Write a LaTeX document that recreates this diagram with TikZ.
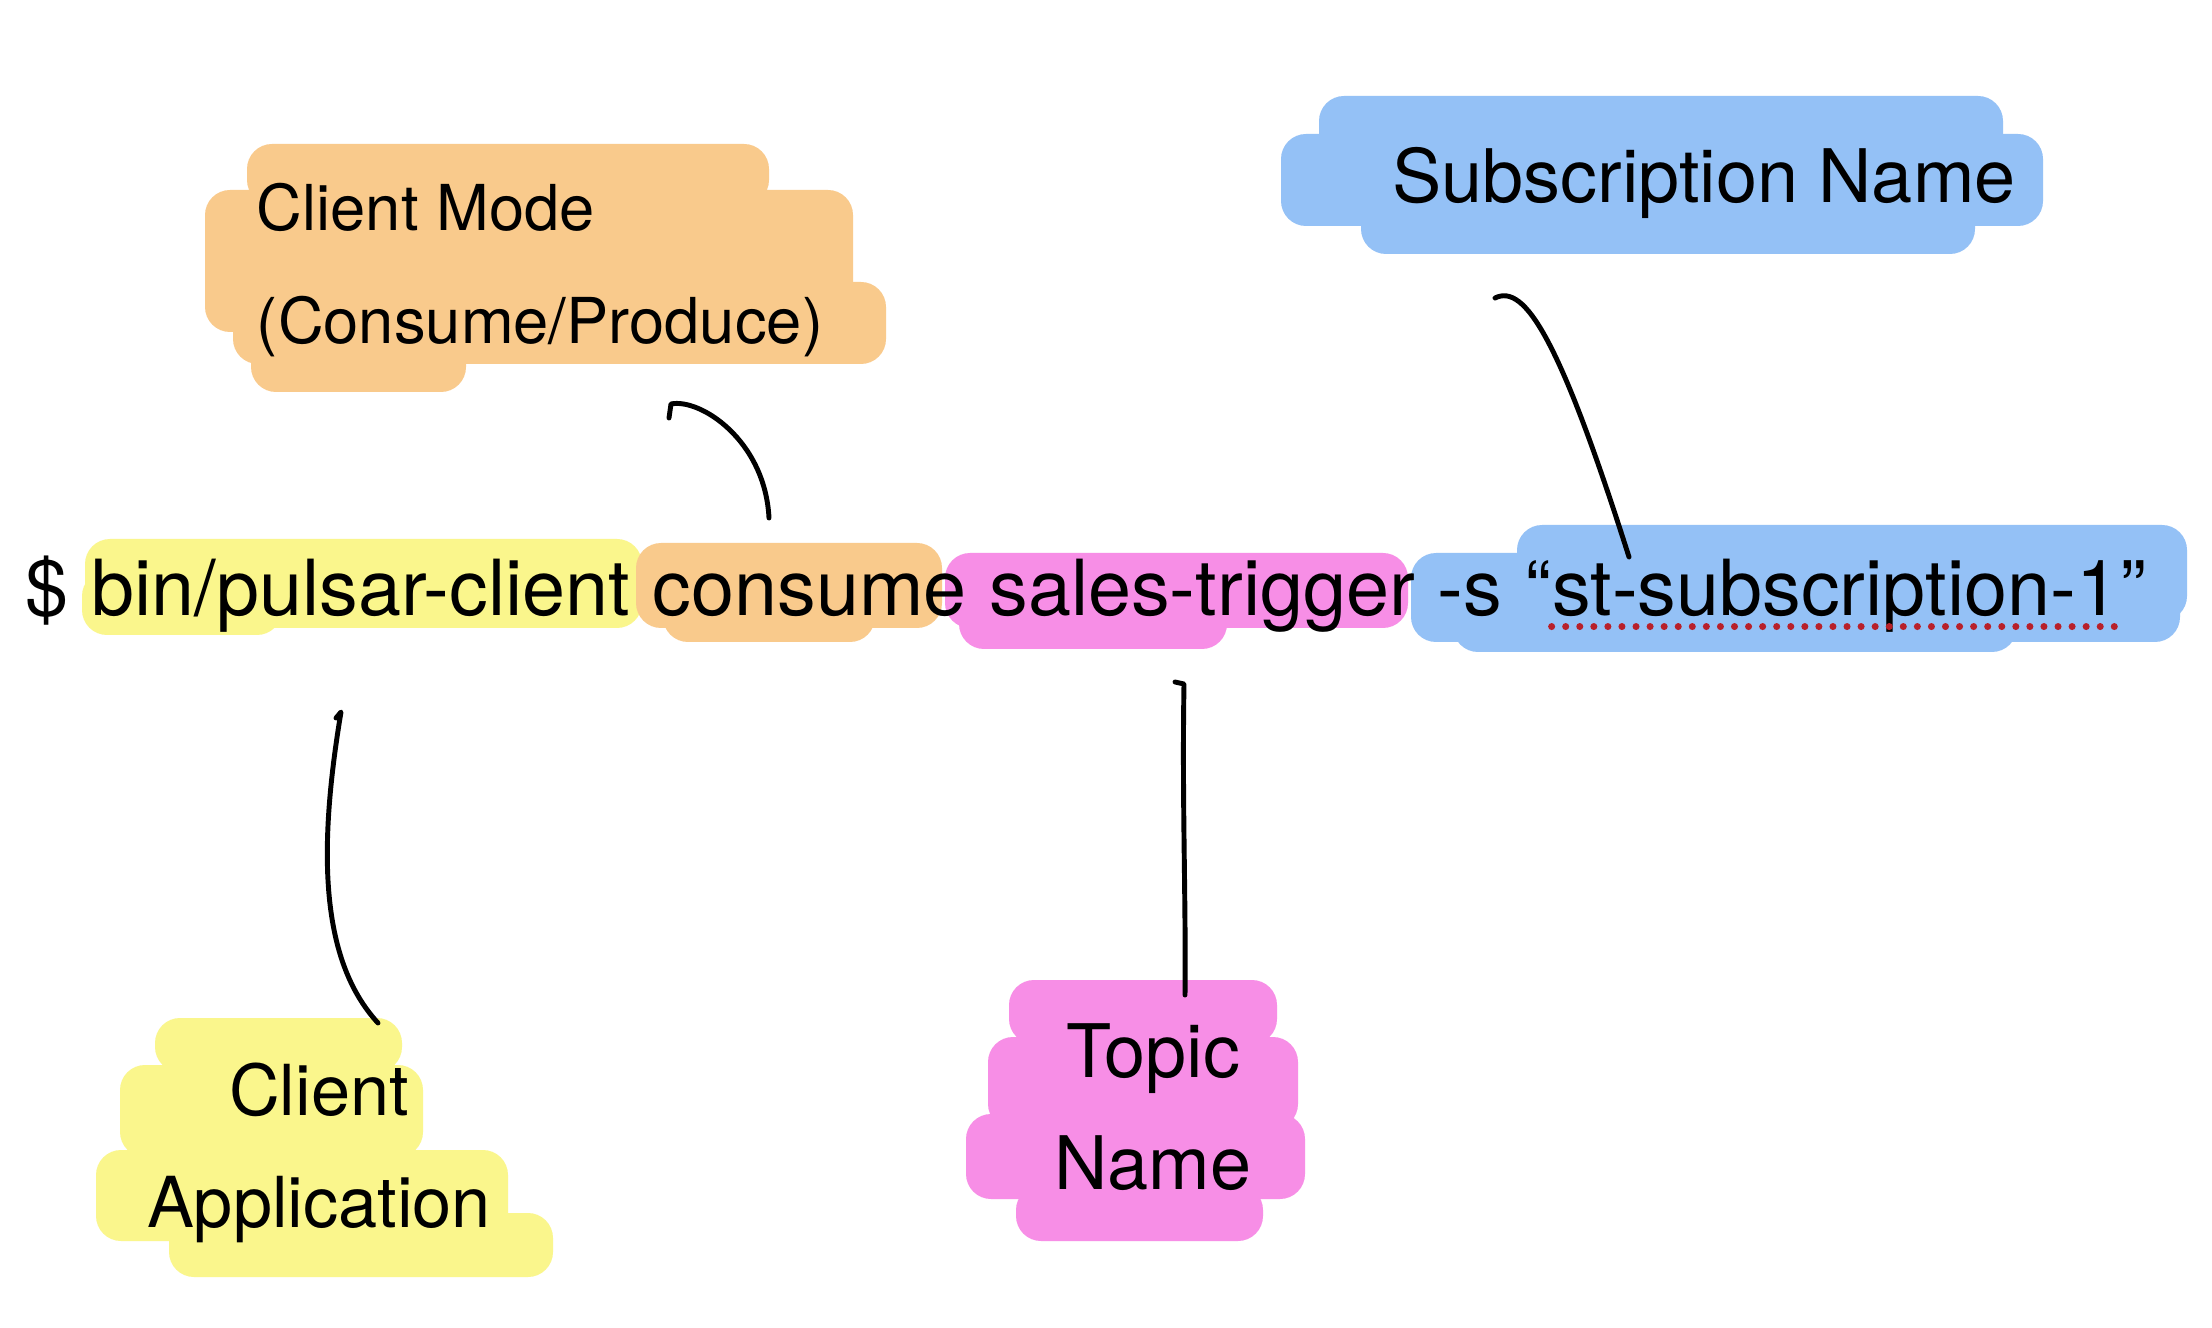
\documentclass[tikz,border=0pt]{standalone}
\usepackage{fontspec}
\setmainfont{TeX Gyre Heros}
\usetikzlibrary{positioning}

\definecolor{yellowhl}{HTML}{FAF68C}
\definecolor{orangehl}{HTML}{F9CA8C}
\definecolor{pinkhl}{HTML}{F78EE6}
\definecolor{bluehl}{HTML}{94C1F6}
\definecolor{spellred}{HTML}{B8202A}

\tikzset{
  cmd/.style={font=\fontsize{22pt}{26pt}\selectfont, inner sep=0pt, anchor=base west},
  note/.style={font=\fontsize{20pt}{32pt}\selectfont, align=center, inner sep=0pt},
  pen/.style={line width=1.4pt, line cap=round, line join=round},
  blob/.style={rounded corners=0.25cm},
}

\begin{document}
\begin{tikzpicture}[x=0.01cm, y=-0.01cm]
  \useasboundingbox[fill=white] (0,0) rectangle (2212,1328);

  % Highlighter strokes behind the command
  \fill[blob, yellowhl] (85,539) rectangle (642,628);
  \fill[blob, yellowhl] (82,571) rectangle (282,635);
  \fill[blob, orangehl] (636,543) rectangle (942,628);
  \fill[blob, orangehl] (663,592) rectangle (875,642);
  \fill[blob, bluehl] (1517,525) rectangle (2187,621);
  \fill[blob, bluehl] (1411,553) rectangle (2180,642);
  \fill[blob, bluehl] (1453,592) rectangle (2017,652);
  \fill[blob, pinkhl] (945,553) rectangle (1408,628);
  \fill[blob, pinkhl] (959,592) rectangle (1227,649);

  % Highlighter strokes behind the notes
  \fill[blob, orangehl] (247,144) rectangle (769,205);
  \fill[blob, orangehl] (205,190) rectangle (853,332);
  \fill[blob, orangehl] (233,282) rectangle (886,364);
  \fill[blob, orangehl] (251,324) rectangle (466,392);

  \fill[blob, bluehl] (1319,96) rectangle (2003,169);
  \fill[blob, bluehl] (1281,134) rectangle (2043,226);
  \fill[blob, bluehl] (1361,190) rectangle (1975,254);

  \fill[blob, yellowhl] (155,1018) rectangle (402,1072);
  \fill[blob, yellowhl] (120,1065) rectangle (423,1157);
  \fill[blob, yellowhl] (96,1150) rectangle (508,1241);
  \fill[blob, yellowhl] (169,1213) rectangle (553,1277);

  \fill[blob, pinkhl] (1009,980) rectangle (1277,1044);
  \fill[blob, pinkhl] (988,1037) rectangle (1298,1129);
  \fill[blob, pinkhl] (966,1114) rectangle (1305,1199);
  \fill[blob, pinkhl] (1016,1185) rectangle (1263,1241);

  % The command line
  \node[cmd] (dollar) at (25,616) {\$};
  \node[cmd, xshift=6.1pt] (app) at (dollar.base east) {bin/pulsar-client};
  \node[cmd, xshift=6.1pt] (mode) at (app.base east) {consume};
  \node[cmd, xshift=6.1pt] (topic) at (mode.base east) {sales-trigger};
  \node[cmd, xshift=6.1pt] (flag) at (topic.base east) {-s};
  \node[cmd, xshift=6.1pt] (lquote) at (flag.base east) {“};
  \node[cmd] (sub) at (lquote.base east) {st-subscription-1};
  \node[cmd] (rquote) at (sub.base east) {”};

  \draw[spellred, line width=2pt, line cap=round, dash pattern=on 0pt off 4pt]
    ([yshift=-3pt]sub.base west) -- ([yshift=-3pt]sub.base east);

  % The notes
  \node[note, align=left, font=\fontsize{18pt}{32pt}\selectfont] (modenote) at (540,270) {Client Mode\\(Consume/Produce)};
  \node[note, font=\fontsize{21pt}{32pt}\selectfont] (subnote) at (1704,183) {Subscription Name};
  \node[note] (appnote) at (319,1153) {Client\\Application};
  \node[note, font=\fontsize{21pt}{32pt}\selectfont] (topicnote) at (1153,1107) {Topic\\Name};

  % Ends of the pen strokes
  \coordinate (modetop) at (669,418);
  \coordinate (modefoot) at (769,518);
  \coordinate (subtop) at (1495,298);
  \coordinate (subfoot) at (1629,557);
  \coordinate (apptop) at (341,712);
  \coordinate (appfoot) at (378,1023);
  \coordinate (topictop) at (1175,682);
  \coordinate (topicfoot) at (1185,995);

  % Draw the connectors
  \draw[pen] (modetop) -- (671,404) .. controls (700,398) and (765,440) .. (modefoot);
  \draw[pen] (subtop) .. controls (1525,283) and (1560,340) .. (subfoot);
  \draw[pen] (336,718) -- (apptop) .. controls (318,850) and (320,960) .. (appfoot);
  \draw[pen] (topictop) -- (1184,684) .. controls (1182,800) and (1186,900) .. (topicfoot);
\end{tikzpicture}
\end{document}
